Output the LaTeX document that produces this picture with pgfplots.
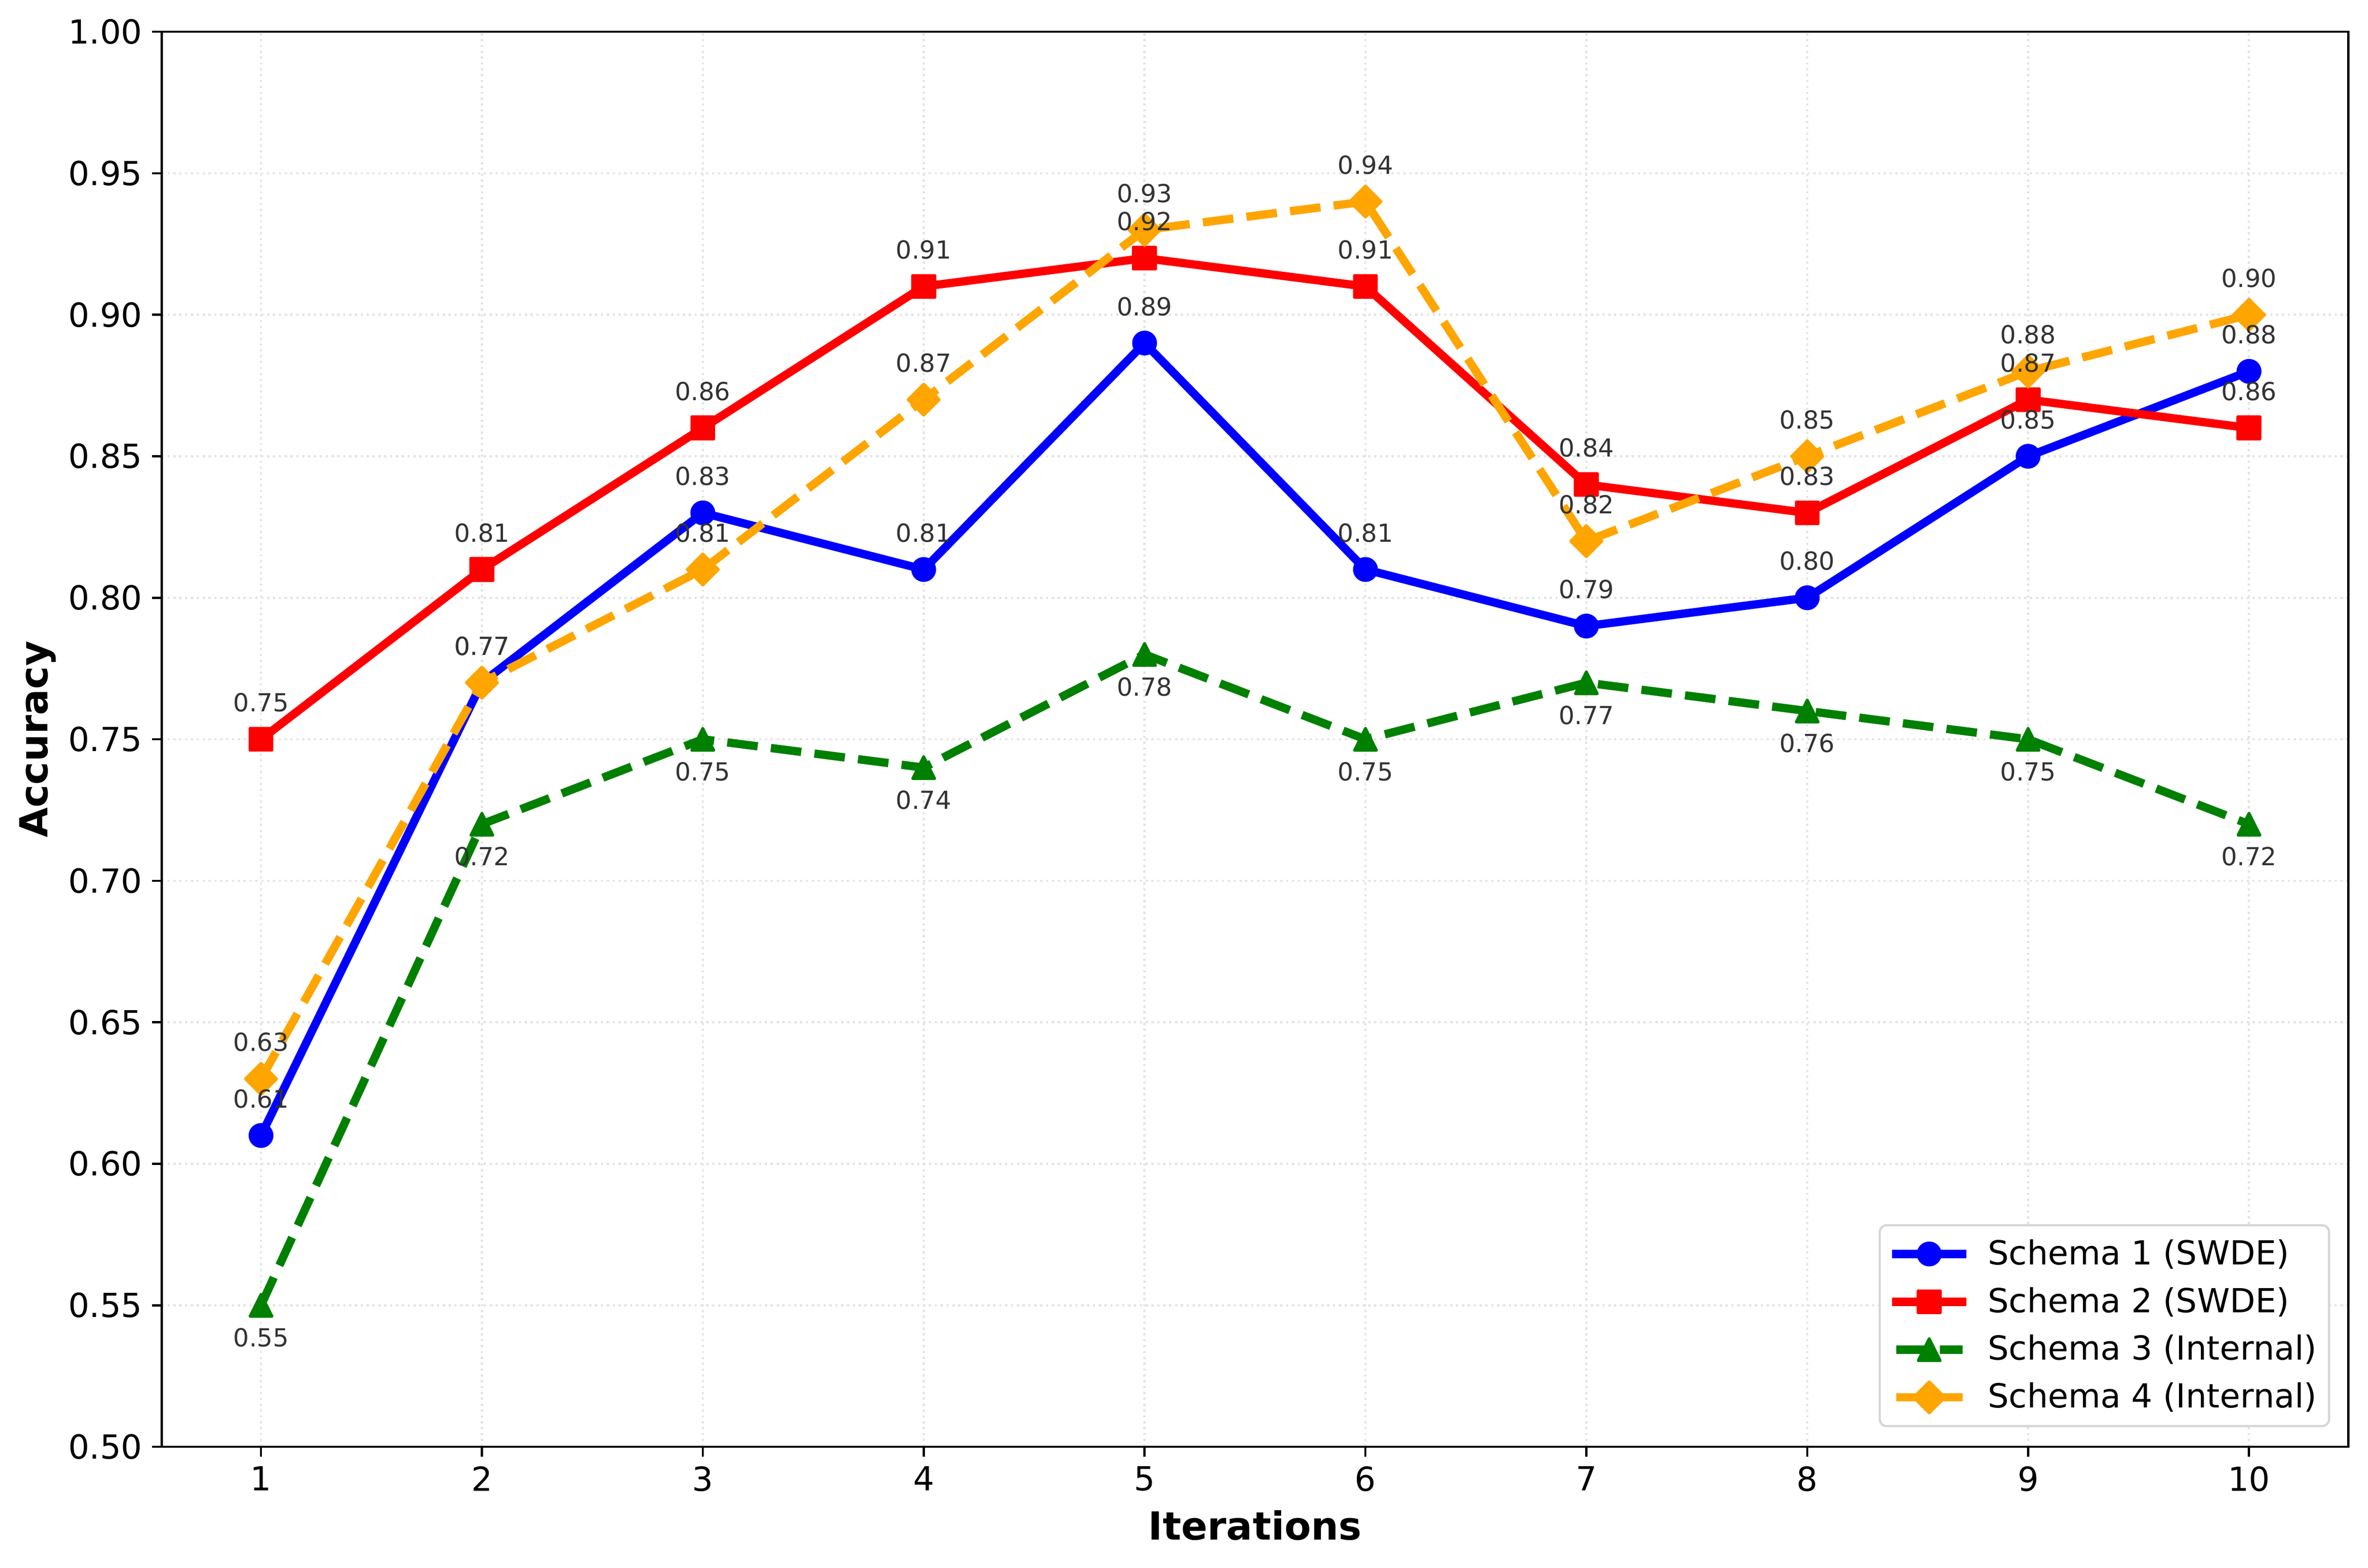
\documentclass[border=0pt]{standalone}
\usepackage{fontspec}
\setmainfont{DejaVu Sans}
\usepackage{pgfplots}
\pgfplotsset{compat=1.18}
\definecolor{mplblue}{HTML}{0000FF}
\definecolor{mplred}{HTML}{FF0000}
\definecolor{mplgreen}{HTML}{008000}
\definecolor{mplorange}{HTML}{FFA500}
\definecolor{annot}{HTML}{333333}
\definecolor{gridc}{HTML}{E4E4E4}
\definecolor{legedge}{HTML}{D6D6D6}
\pgfdeclareplotmark{mpltri}{%
  \pgfpathmoveto{\pgfqpoint{0pt}{\pgfplotmarksize}}%
  \pgfpathlineto{\pgfqpoint{-\pgfplotmarksize}{-\pgfplotmarksize}}%
  \pgfpathlineto{\pgfqpoint{\pgfplotmarksize}{-\pgfplotmarksize}}%
  \pgfpathclose\pgfusepathqfillstroke}
\pgfdeclareplotmark{mpldiam}{%
  \pgfpathmoveto{\pgfqpoint{0pt}{\pgfplotmarksize}}%
  \pgfpathlineto{\pgfqpoint{\pgfplotmarksize}{0pt}}%
  \pgfpathlineto{\pgfqpoint{0pt}{-\pgfplotmarksize}}%
  \pgfpathlineto{\pgfqpoint{-\pgfplotmarksize}{0pt}}%
  \pgfpathclose\pgfusepathqfillstroke}
\begin{document}
\begin{tikzpicture}
\begin{axis}[
  scale only axis, width=791.5pt, height=512.2pt,
  xmin=0.55, xmax=10.45, ymin=0.5, ymax=1.0,
  xtick={1,2,3,4,5,6,7,8,9,10},
  ytick={0.50,0.55,0.60,0.65,0.70,0.75,0.80,0.85,0.90,0.95,1.00},
  tick align=outside, major tick length=3.5pt,
  xtick pos=bottom, ytick pos=left,
  tick style={black, line width=0.8pt},
  axis line style={black, line width=0.8pt},
  grid=major,
  major grid style={gridc, line width=0.8pt, dash pattern=on 0.8pt off 1.32pt},
  ticklabel style={font=\fontsize{12}{14.4}\selectfont},
  yticklabel style={/pgf/number format/.cd, fixed, fixed zerofill, precision=2},
  /pgf/number format/assume math mode=true,
  xlabel={Iterations}, ylabel={Accuracy},
  every axis x label/.style={at={(axis description cs:0.5,-0.05545)}, anchor=center,
    font=\fontsize{14}{16.8}\selectfont\bfseries},
  every axis y label/.style={at={(axis description cs:-0.0566,0.5)}, rotate=90, anchor=center,
    font=\fontsize{14}{16.8}\selectfont\bfseries},
  legend style={at={(axis description cs:1,0)}, anchor=south east,
    xshift=-6.6pt, yshift=7.1pt, draw=legedge, line width=0.8pt,
    rounded corners=2.5pt, fill=white, inner xsep=4.4pt, inner ysep=3.6pt,
    row sep=3.7pt, column sep=7.7pt,
    font=\fontsize{12}{14.4}\selectfont, nodes={inner sep=0pt, text=black}},
  legend cell align=left,
  legend image code/.code={%
    \path[draw=none, fill=none] (0pt,-6.8pt) rectangle (24pt,6.8pt);
    \draw[sharp corners, mark repeat=2, mark phase=2, #1]
      plot coordinates {(0pt,0pt) (12pt,0pt) (24pt,0pt)};},
]
\addplot[mplblue, line width=3pt, line cap=rect, line join=round,
  mark=*, mark size=4pt, mark options={solid, line width=1pt, fill=mplblue}]
  coordinates {(1,0.61) (2,0.77) (3,0.83) (4,0.81) (5,0.89) (6,0.81) (7,0.79) (8,0.80) (9,0.85) (10,0.88)};
\addlegendentry{Schema 1 (SWDE)}
\addplot[mplred, line width=3pt, line cap=rect, line join=round,
  mark=square*, mark size=4pt, mark options={solid, line width=1pt, fill=mplred}]
  coordinates {(1,0.75) (2,0.81) (3,0.86) (4,0.91) (5,0.92) (6,0.91) (7,0.84) (8,0.83) (9,0.87) (10,0.86)};
\addlegendentry{Schema 2 (SWDE)}
\addplot[mplgreen, line width=3pt, line join=round, dash pattern=on 11.1pt off 4.8pt,
  mark=mpltri, mark size=4pt, mark options={solid, line width=1pt, fill=mplgreen}]
  coordinates {(1,0.55) (2,0.72) (3,0.75) (4,0.74) (5,0.78) (6,0.75) (7,0.77) (8,0.76) (9,0.75) (10,0.72)};
\addlegendentry{Schema 3 (Internal)}
\addplot[mplorange, line width=3pt, line join=round, dash pattern=on 11.1pt off 4.8pt,
  mark=mpldiam, mark size=5.66pt, mark options={solid, line width=1pt, fill=mplorange}]
  coordinates {(1,0.63) (2,0.77) (3,0.81) (4,0.87) (5,0.93) (6,0.94) (7,0.82) (8,0.85) (9,0.88) (10,0.90)};
\addlegendentry{Schema 4 (Internal)}
% value labels
\pgfplotsset{
  lbl/.style={draw=none, forget plot,
    nodes near coords={\pgfmathprintnumber[fixed,fixed zerofill,precision=2]{\pgfplotspointmeta}},
    every node near coord/.append style={anchor=base, yshift=#1, inner sep=0pt,
      font=\fontsize{9}{10.8}\selectfont, text=annot}}}
\addplot[lbl=10pt]
  coordinates {(1,0.61) (2,0.77) (3,0.83) (4,0.81) (5,0.89) (6,0.81) (7,0.79) (8,0.80) (9,0.85) (10,0.88)};
\addplot[lbl=10pt]
  coordinates {(1,0.75) (2,0.81) (3,0.86) (4,0.91) (5,0.92) (6,0.91) (7,0.84) (8,0.83) (9,0.87) (10,0.86)};
\addplot[lbl=-15pt]
  coordinates {(1,0.55) (2,0.72) (3,0.75) (4,0.74) (5,0.78) (6,0.75) (7,0.77) (8,0.76) (9,0.75) (10,0.72)};
\addplot[lbl=10pt]
  coordinates {(1,0.63) (2,0.77) (3,0.81) (4,0.87) (5,0.93) (6,0.94) (7,0.82) (8,0.85) (9,0.88) (10,0.90)};
\end{axis}
\pgfresetboundingbox
\path ([xshift=-58.5pt,yshift=-43.7pt]current axis.south west) rectangle ([xshift=7.1pt,yshift=11.5pt]current axis.north east);
\end{tikzpicture}
\end{document}
